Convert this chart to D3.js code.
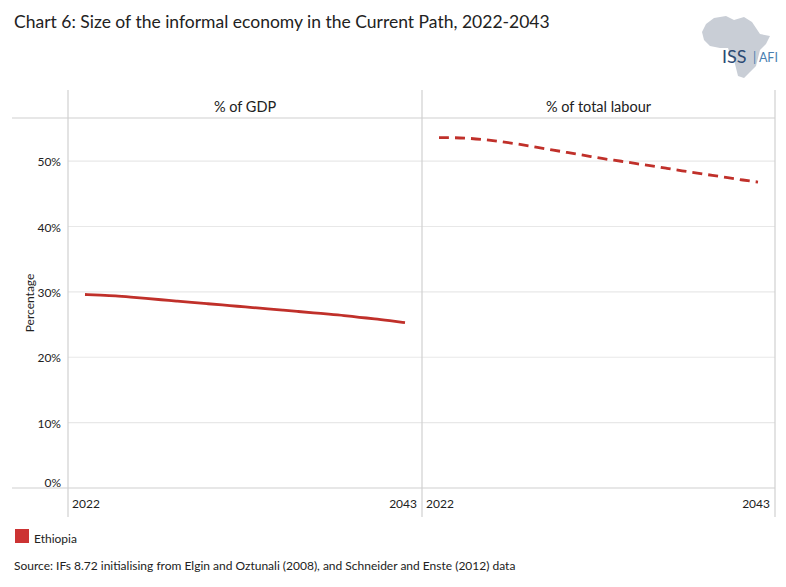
<!DOCTYPE html>
<html>
<head>
<meta charset="utf-8">
<script src="https://cdn.jsdelivr.net/npm/d3@7"></script>
<style>
  body { margin: 0; background: #fff; }
  text { font-family: Lato, "Open Sans", sans-serif; fill: #222; }
</style>
</head>
<body>
<div id="chart"></div>
<script>

var years = d3.range(2022, 2044);
var gdpShare = [29.6, 29.5, 29.4, 29.2, 29.0, 28.8, 28.6, 28.4, 28.2, 28.0, 27.8,
                27.6, 27.4, 27.2, 27.0, 26.8, 26.6, 26.4, 26.1, 25.9, 25.6, 25.3];
var labourShare = [53.6, 53.6, 53.5, 53.3, 53.0, 52.7, 52.3, 51.9, 51.5, 51.1, 50.7,
                   50.3, 50.0, 49.6, 49.3, 48.9, 48.5, 48.2, 47.8, 47.5, 47.1, 46.8];
var panelTitles = ["% of GDP", "% of total labour"];
var yTicks = [0, 10, 20, 30, 40, 50];
var xTicks = [2022, 2043];
var seriesName = "Ethiopia";

var width = 786, height = 587;
var red = "#c0302a";
var plotTop = 118, plotBottom = 488;
var panels = [
  {x0: 68, x1: 422, values: gdpShare, dash: null},
  {x0: 422, x1: 775, values: labourShare, dash: "10,6"}
];

var svg = d3.select("#chart").append("svg")
  .attr("width", width)
  .attr("height", height);

svg.append("text")
  .attr("x", 14).attr("y", 28)
  .style("font-size", "17.5px")
  .text("Chart 6: Size of the informal economy in the Current Path, 2022-2043");

var y = d3.scaleLinear().domain([0, 56.6]).range([plotBottom, plotTop]);

// gridlines
panels.forEach(function(p){
  svg.append("g")
    .selectAll("line")
    .data(yTicks.filter(function(d){ return d > 0; }))
    .enter()
    .append("line")
    .attr("x1", p.x0).attr("x2", p.x1)
    .attr("y1", function(d){ return y(d); })
    .attr("y2", function(d){ return y(d); })
    .style("stroke", "#e8e8e8")
    .style("stroke-width", 1.2);
});

// frame lines
[plotTop, plotBottom].forEach(function(yy){
  svg.append("line").attr("x1", 12).attr("x2", 775).attr("y1", yy).attr("y2", yy)
    .style("stroke", "#d0d0d0").style("stroke-width", 1.2);
});
[68, 422, 775].forEach(function(x){
  svg.append("line").attr("x1", x).attr("x2", x).attr("y1", 90).attr("y2", 517)
    .style("stroke", "#d0d0d0").style("stroke-width", 1.2);
});

// y axis labels
svg.append("g")
  .selectAll("text")
  .data(yTicks)
  .enter()
  .append("text")
  .attr("x", 61)
  .attr("y", function(d){ return d === 0 ? y(d) - 1 : y(d) + 5; })
  .attr("text-anchor", "end")
  .style("font-size", "12px")
  .text(function(d){ return d + "%"; });

svg.append("text")
  .attr("transform", "translate(34," + ((plotTop + plotBottom) / 2) + ") rotate(-90)")
  .attr("text-anchor", "middle")
  .style("font-size", "12px")
  .text("Percentage");

panels.forEach(function(p, i){
  var x = d3.scaleLinear().domain([2022, 2043]).range([p.x0 + 17, p.x1 - 17]);

  svg.append("text")
    .attr("x", (p.x0 + p.x1) / 2).attr("y", 112)
    .attr("text-anchor", "middle")
    .style("font-size", "14.5px")
    .text(panelTitles[i]);

  svg.append("g")
    .selectAll("text")
    .data(xTicks)
    .enter()
    .append("text")
    .attr("x", function(d, j){ return j === 0 ? p.x0 + 4 : p.x1 - 5; })
    .attr("y", 508)
    .attr("text-anchor", function(d, j){ return j === 0 ? "start" : "end"; })
    .style("font-size", "12px")
    .text(function(d){ return d; });

  var line = d3.line()
    .x(function(d, j){ return x(years[j]); })
    .y(function(d){ return y(d); })
    .curve(d3.curveBasis);

  svg.append("path")
    .datum(p.values)
    .attr("d", line)
    .style("fill", "none")
    .style("stroke", red)
    .style("stroke-width", 2.8)
    .style("stroke-dasharray", p.dash);
});

// legend
svg.append("rect")
  .attr("x", 15).attr("y", 529).attr("width", 14).attr("height", 14)
  .style("fill", "#cc3333");
svg.append("text")
  .attr("x", 34).attr("y", 543)
  .style("font-size", "12px")
  .text(seriesName);

svg.append("text")
  .attr("x", 14).attr("y", 570)
  .style("font-size", "12px")
  .text("Source: IFs 8.72 initialising  from Elgin and Oztunali (2008), and Schneider and Enste (2012) data");

// logo
var logo = svg.append("g").attr("transform", "translate(700,14)");
logo.append("path")
  .attr("d", "M14,4 L26,2 L34,6 L44,3 L52,8 L56,14 L60,20 L70,22 L66,30 L60,36 L58,44 L56,52 L50,58 L44,64 L38,62 L36,54 L34,46 L30,40 L28,34 L20,34 L10,32 L4,26 L2,18 L6,10 Z")
  .style("fill", "#c9ced6");
logo.append("text")
  .attr("x", 22).attr("y", 49)
  .style("font-size", "18px")
  .style("fill", "#2b4a73")
  .text("ISS");
logo.append("text")
  .attr("x", 53).attr("y", 48)
  .style("font-size", "12.5px")
  .style("fill", "#4a7fb0")
  .text("| AFI");

</script>
</body>
</html>
